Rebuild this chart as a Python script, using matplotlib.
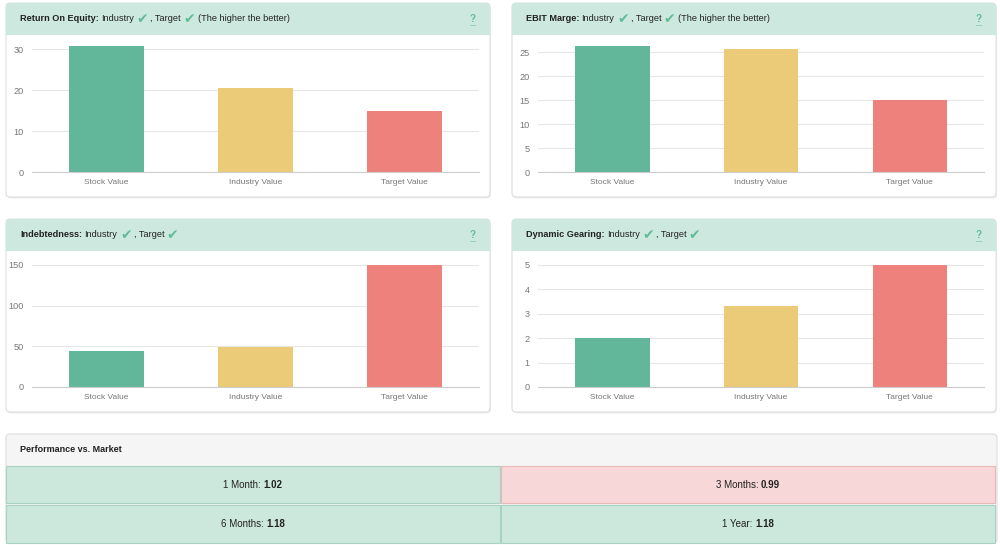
import matplotlib.pyplot as plt
from matplotlib.patches import FancyBboxPatch, Rectangle
from matplotlib.lines import Line2D
from matplotlib.transforms import IdentityTransform
from matplotlib.ticker import MultipleLocator

# =========================
# DATA
# =========================
categories = ["Stock Value", "Industry Value", "Target Value"]
roe = [30.8, 20.5, 15.0]
ebit = [26.3, 25.7, 15.0]
indebt = [43.8, 48.7, 150.0]
gearing = [2.0, 3.34, 5.0]

panel_names = ["Return On Equity:", "EBIT Marge:", "Indebtedness:", "Dynamic Gearing:"]
panel_notes = ["(The higher the better)", "(The higher the better)", "", ""]
panel_steps = [10, 5, 50, 1]

perf_labels = ["1 Month", "3 Months", "6 Months", "1 Year"]
perf_values = [1.02, 0.99, 1.18, 1.18]

# =========================
# STYLE
# =========================
W, H = 1000, 548
bar_colors = ["#62b699", "#ebca78", "#ef817d"]
head_green = "#cde9df"
check_green = "#63bb98"
cell_green = "#cce8dd"
cell_red = "#f7d7d7"
FONT = ["Liberation Sans", "DejaVu Sans"]

plt.rcParams["font.family"] = FONT

fig = plt.figure(figsize=(10, 5.48), dpi=100)
fig.patch.set_facecolor("white")
renderer = fig.canvas.get_renderer()
ident = IdentityTransform()


def px(x, y):
    # top-left pixel coords -> display coords
    return x, H - y


def box(x, y, w, h, fc, ec, rounded=True, z=-5, lw=0.8):
    x0, y0 = px(x, y + h)
    if rounded:
        p = FancyBboxPatch((x0, y0), w, h, boxstyle="round,pad=0,rounding_size=4",
                           transform=ident, facecolor=fc, edgecolor=ec, lw=lw, zorder=z)
    else:
        p = Rectangle((x0, y0), w, h, transform=ident, facecolor=fc,
                      edgecolor=ec, lw=lw, zorder=z)
    fig.add_artist(p)
    return p


def put_text(x, y, s, **kw):
    t = fig.text(*px(x, y), s, transform=ident, va="center", ha="left", **kw)
    w = t.get_window_extent(renderer).width
    return t, w


def header_line(x, y, name, note):
    _, w = put_text(x, y, name, fontsize=6.6, fontweight="bold", color="#222222")
    x += w + 2
    _, w = put_text(x, y, "Industry", fontsize=6.6, color="#222222")
    x += w + 3
    _, w = put_text(x, y + 0.5, "\u2714", fontsize=10, color=check_green, family="DejaVu Sans")
    x += w + 2
    _, w = put_text(x, y, ", Target", fontsize=6.6, color="#222222")
    x += w + 2
    _, w = put_text(x, y + 0.5, "\u2714", fontsize=10, color=check_green, family="DejaVu Sans")
    x += w + 3
    if note:
        put_text(x, y, note, fontsize=6.6, color="#222222")


def card(x, y, w, h, name, note, values, step, ax_box):
    # card body + header band
    box(x + 1, y + 1.5, w, h, "#eeeeee", "none", z=-7)
    box(x, y, w, h, "white", "#dddddd")
    box(x, y, w, 32, head_green, "none", z=-4)
    box(x, y + 16, w, 16, head_green, "none", rounded=False, z=-4, lw=0)
    header_line(x + 14, y + 15.5, name, note)
    qx, qy = px(x + w - 17, y + 15.5)
    fig.text(qx, qy, "?", transform=ident, va="center", ha="center",
             fontsize=7, fontweight="bold", color=check_green)
    fig.add_artist(Line2D([qx - 3, qx + 3], [qy - 6, qy - 6], transform=ident,
                          color=check_green, lw=0.7, ls=(0, (1, 1))))

    ax_l, ax_t, ax_r, ax_b = ax_box
    ax = fig.add_axes([ax_l / W, 1 - ax_b / H, (ax_r - ax_l) / W, (ax_b - ax_t) / H])
    ax.set_facecolor("none")
    ax.bar(range(len(categories)), values, width=0.5, color=bar_colors, zorder=3)
    ax.set_xlim(-0.5, len(categories) - 0.5)
    ax.set_ylim(0, max(values))
    ax.yaxis.set_major_locator(MultipleLocator(step))
    ax.grid(axis="y", color="#e6e6e6", lw=0.8, zorder=0)
    ax.set_xticks(range(len(categories)))
    ax.set_xticklabels(categories)
    ax.tick_params(axis="both", length=0, labelsize=6, labelcolor="#777777")
    ax.tick_params(axis="y", pad=6, labelsize=6.6)
    ax.tick_params(axis="x", pad=5)
    for s in ["top", "right", "left"]:
        ax.spines[s].set_visible(False)
    ax.spines["bottom"].set_color("#cccccc")
    ax.spines["bottom"].set_linewidth(0.8)
    ax.spines["bottom"].set_zorder(4)
    return ax


# =========================
# 4 BAR CARDS
# =========================
cards = [
    (6, 3, 484, 194, (32, 46, 479, 172)),
    (512, 3, 484, 194, (538, 46, 984, 172)),
    (6, 219, 484, 193, (32, 265, 479, 387)),
    (512, 219, 484, 193, (538, 265, 984, 387)),
]
all_values = [roe, ebit, indebt, gearing]

for i, (cx, cy, cw, ch, axb) in enumerate(cards):
    card(cx, cy, cw, ch, panel_names[i], panel_notes[i], all_values[i], panel_steps[i], axb)

# =========================
# PERFORMANCE VS MARKET
# =========================
box(6, 434, 991, 109, "#f5f5f5", "#dddddd")
put_text(20, 450, "Performance vs. Market", fontsize=6.5, fontweight="bold", color="#222222")

cells = [(6, 466, 494, 37), (501, 466, 494, 37), (6, 505, 494, 38), (501, 505, 494, 38)]
for (x, y, w, h), lab, val in zip(cells, perf_labels, perf_values):
    fc = cell_green if val >= 1 else cell_red
    ec = "#a8d3c2" if val >= 1 else "#e8b9b9"
    box(x, y, w, h, fc, ec, rounded=False, z=-3)
    t1, w1 = put_text(0, y + h / 2, lab + ":", fontsize=7, color="#222222")
    t2, w2 = put_text(0, y + h / 2, f"{val:.2f}", fontsize=7, fontweight="bold", color="#222222")
    start = x + w / 2 - (w1 + 2.5 + w2) / 2
    t1.set_position(px(start, y + h / 2))
    t2.set_position(px(start + w1 + 2.5, y + h / 2))

fig.savefig("out.png", dpi=100, facecolor="white")
